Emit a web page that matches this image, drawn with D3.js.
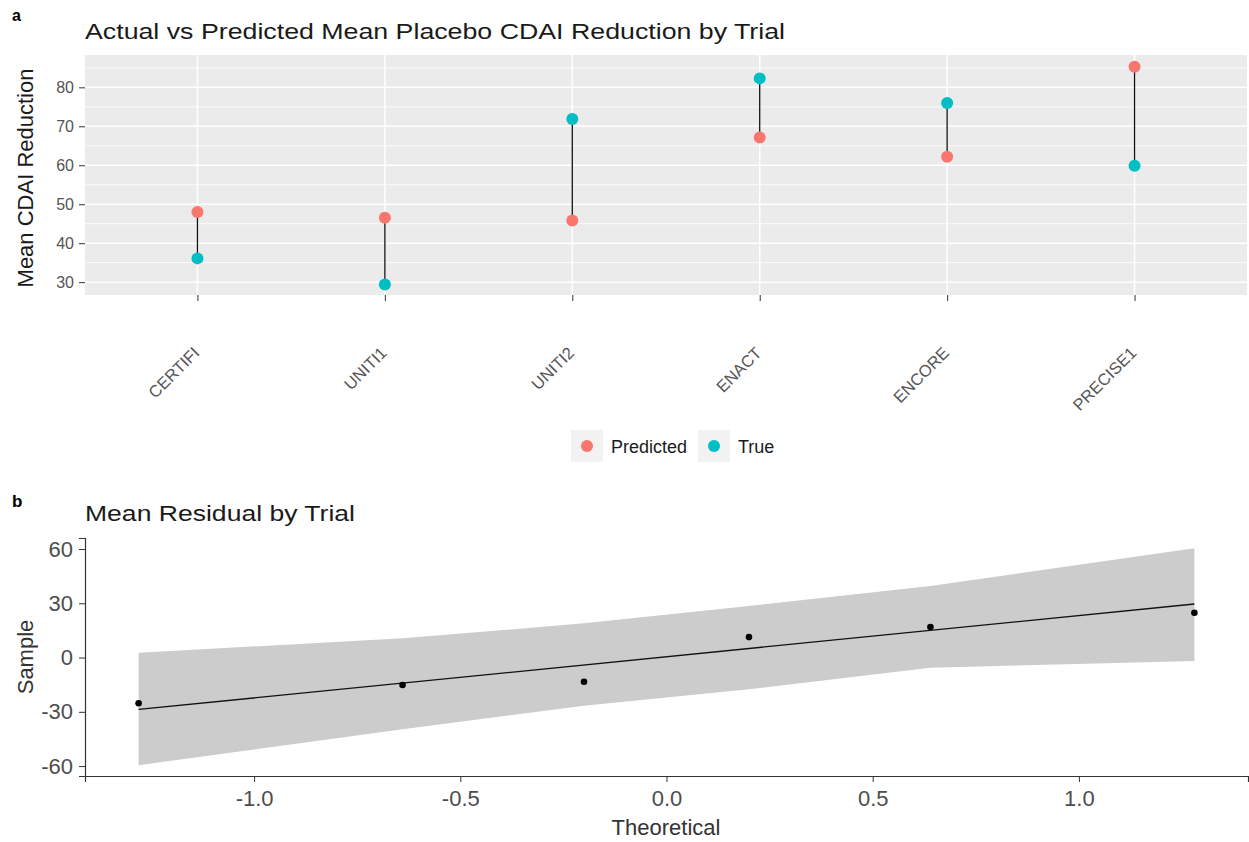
<!DOCTYPE html>
<html>
<head>
<meta charset="utf-8">
<script src="https://cdn.jsdelivr.net/npm/d3@7"></script>
<style>
  body { margin: 0; background: #fff; }
  text { font-family: "Liberation Sans", Arial, sans-serif; }
</style>
</head>
<body>
<svg id="chart"></svg>
<script>
// panel a: trials and mean CDAI reductions
const trials = ["CERTIFI", "UNITI1", "UNITI2", "ENACT", "ENCORE", "PRECISE1"];
const predicted = [48.0, 46.5, 45.8, 67.1, 62.2, 85.3];
const trueVals = [36.1, 29.4, 71.9, 82.3, 76.0, 59.9];
const yTicksA = [30, 40, 50, 60, 70, 80];
const yMinorA = [35, 45, 55, 65, 75, 85];

// panel b: qq plot of residuals
const theoretical = [-1.28, -0.64, -0.20, 0.20, 0.64, 1.28];
const sample = [-25.3, -15.2, -13.4, 11.3, 16.9, 24.8];
const bandUpper = [2.7, 10.6, 18.9, 28.5, 39.6, 60.4];
const bandLower = [-59.5, -39.6, -26.7, -17.6, -5.6, -1.9];
const lineX = [-1.28, 1.28];
const lineY = [-28.7, 29.6];
const yTicksB = [-60, -30, 0, 30, 60];
const xTicksB = [-1.0, -0.5, 0.0, 0.5, 1.0];

const colPred = "#F8766D", colTrue = "#00BFC4";

const svg = d3.select("#chart")
    .attr("width", 1249)
    .attr("height", 842);

// ---------- panel a ----------
var xA = d3.scalePoint().domain(trials).range([85, 1247]).padding(0.6);
var yA = d3.scaleLinear().domain([26.7, 88.3]).range([295, 55]);

svg.append("text").attr("x", 12).attr("y", 21)
    .style("font-weight", "bold").style("font-size", "16px").text("a");

svg.append("text").attr("x", 85).attr("y", 39)
    .attr("textLength", 700).attr("lengthAdjust", "spacingAndGlyphs")
    .style("font-size", "22px").style("fill", "#1a1a1a")
    .text("Actual vs Predicted Mean Placebo CDAI Reduction by Trial");

svg.append("rect")
    .attr("x", 85).attr("y", 55)
    .attr("width", 1247 - 85).attr("height", 295 - 55)
    .attr("fill", "#ebebeb");

svg.append("g").selectAll("line").data(yMinorA).enter().append("line")
    .attr("x1", 85).attr("x2", 1247)
    .attr("y1", d => yA(d)).attr("y2", d => yA(d))
    .attr("stroke", "#fff").attr("stroke-width", 0.8);

svg.append("g").selectAll("line").data(yTicksA).enter().append("line")
    .attr("x1", 85).attr("x2", 1247)
    .attr("y1", d => yA(d)).attr("y2", d => yA(d))
    .attr("stroke", "#fff").attr("stroke-width", 1.5);

svg.append("g").selectAll("line").data(trials).enter().append("line")
    .attr("x1", d => xA(d)).attr("x2", d => xA(d))
    .attr("y1", 55).attr("y2", 295)
    .attr("stroke", "#fff").attr("stroke-width", 1.5);

// y axis a
var yAxisA = svg.append("g")
    .attr("transform", "translate(85,0)")
    .call(d3.axisLeft(yA).tickValues(yTicksA).tickSize(6).tickPadding(5));
yAxisA.select(".domain").remove();
yAxisA.selectAll(".tick line").attr("stroke", "#333");
yAxisA.selectAll(".tick text").style("font-size", "16px").attr("fill", "#555")
    .attr("font-family", "Liberation Sans, Arial, sans-serif");

// x axis a
var xAxisA = svg.append("g")
    .attr("transform", "translate(0,295)")
    .call(d3.axisBottom(xA).tickSize(6).tickFormat(""));
xAxisA.select(".domain").remove();
xAxisA.selectAll(".tick line").attr("stroke", "#333");

svg.append("g").selectAll("text").data(trials).enter().append("text")
    .attr("transform", d => "translate(" + (xA(d) + 3) + ",354) rotate(-45)")
    .attr("text-anchor", "end")
    .style("font-size", "16.5px").style("fill", "#555")
    .text(d => d);

svg.append("text")
    .attr("transform", "translate(33," + 178 + ") rotate(-90)")
    .attr("text-anchor", "middle")
    .style("font-size", "22px").style("fill", "#1a1a1a")
    .text("Mean CDAI Reduction");

// segments and points
svg.append("g").selectAll("line").data(trials).enter().append("line")
    .attr("x1", d => xA(d)).attr("x2", d => xA(d))
    .attr("y1", (d, i) => yA(predicted[i])).attr("y2", (d, i) => yA(trueVals[i]))
    .attr("stroke", "#111").attr("stroke-width", 1.3);

svg.append("g").selectAll("circle").data(trials).enter().append("circle")
    .attr("cx", d => xA(d)).attr("cy", (d, i) => yA(predicted[i]))
    .attr("r", 6).attr("fill", colPred);

svg.append("g").selectAll("circle").data(trials).enter().append("circle")
    .attr("cx", d => xA(d)).attr("cy", (d, i) => yA(trueVals[i]))
    .attr("r", 6).attr("fill", colTrue);

// legend
var legend = [
    {label: "Predicted", color: colPred, x: 571},
    {label: "True", color: colTrue, x: 698}
];
var lg = svg.append("g").selectAll("g").data(legend).enter().append("g")
    .attr("transform", d => "translate(" + d.x + ",430)");
lg.append("rect").attr("width", 32).attr("height", 32).attr("fill", "#f2f2f2");
lg.append("circle").attr("cx", 16).attr("cy", 16).attr("r", 6).attr("fill", d => d.color);
lg.append("text").attr("x", 40).attr("y", 23)
    .style("font-size", "18px").style("fill", "#1a1a1a")
    .text(d => d.label);

// ---------- panel b ----------
var xB = d3.scaleLinear().domain([-1.41, 1.41]).range([85, 1248]);
var yB = d3.scaleLinear().domain([-65.5, 66.1]).range([776, 538]);

svg.append("text").attr("x", 12).attr("y", 507)
    .style("font-weight", "bold").style("font-size", "17px").text("b");

svg.append("text").attr("x", 85).attr("y", 521)
    .attr("textLength", 270).attr("lengthAdjust", "spacingAndGlyphs")
    .style("font-size", "22px").style("fill", "#1a1a1a")
    .text("Mean Residual by Trial");

var band = d3.area()
    .x((d, i) => xB(theoretical[i]))
    .y0((d, i) => yB(bandLower[i]))
    .y1((d, i) => yB(bandUpper[i]));

svg.append("path").datum(theoretical)
    .attr("d", band)
    .attr("fill", "#cccccc");

svg.append("path").datum(lineX)
    .attr("d", d3.line().x(d => xB(d)).y((d, i) => yB(lineY[i])))
    .attr("stroke", "#111").attr("stroke-width", 1.3).attr("fill", "none");

svg.append("g").selectAll("circle").data(theoretical).enter().append("circle")
    .attr("cx", d => xB(d)).attr("cy", (d, i) => yB(sample[i]))
    .attr("r", 3.3).attr("fill", "#000");

var yAxisB = svg.append("g")
    .attr("transform", "translate(85,0)")
    .call(d3.axisLeft(yB).tickValues(yTicksB).tickSize(6).tickPadding(6)
        .tickFormat(d => String(d)));
yAxisB.select(".domain").attr("stroke", "#333").attr("stroke-width", 1.2);
yAxisB.selectAll(".tick line").attr("stroke", "#333");
yAxisB.selectAll(".tick text").style("font-size", "22px").attr("fill", "#4d4d4d")
    .attr("font-family", "Liberation Sans, Arial, sans-serif");

var xAxisB = svg.append("g")
    .attr("transform", "translate(0,776)")
    .call(d3.axisBottom(xB).tickValues(xTicksB).tickSize(6).tickPadding(8)
        .tickFormat(d => d.toFixed(1)));
xAxisB.select(".domain").attr("stroke", "#333").attr("stroke-width", 1.2);
xAxisB.selectAll(".tick line").attr("stroke", "#333");
xAxisB.selectAll(".tick text").style("font-size", "22px").attr("fill", "#4d4d4d")
    .attr("font-family", "Liberation Sans, Arial, sans-serif");

svg.append("text").attr("x", 666).attr("y", 835)
    .attr("text-anchor", "middle")
    .style("font-size", "22px").style("fill", "#333")
    .text("Theoretical");

svg.append("text")
    .attr("transform", "translate(33,657) rotate(-90)")
    .attr("text-anchor", "middle")
    .style("font-size", "22px").style("fill", "#333")
    .text("Sample");
</script>
</body>
</html>
